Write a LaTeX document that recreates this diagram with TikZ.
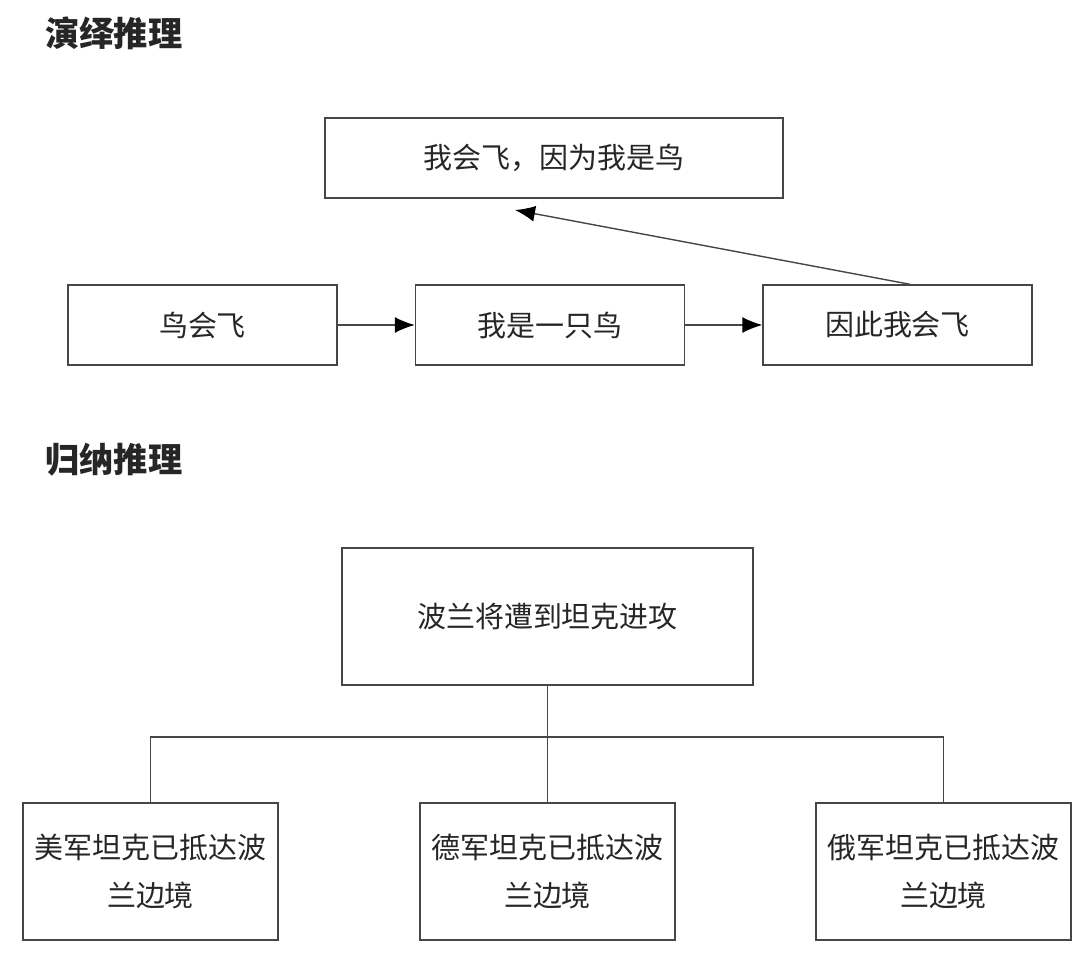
\documentclass[tikz,border=0pt]{standalone}
\usepackage{fontspec}
\setmainfont{Noto Sans CJK SC}
\usetikzlibrary{positioning}
\usetikzlibrary{arrows.meta}
\definecolor{rule}{RGB}{70,70,70}
\tikzstyle{every box} = [draw=rule, line width=0.8pt, text=black!85, font=\fontsize{16.5}{27}\selectfont, align=center]
\tikzstyle{box} = [rectangle, every box]
\tikzstyle{link} = [-{Latex[length=4mm,width=3.2mm,color=black]}, draw=rule, line width=0.8pt]
\tikzstyle{tree} = [draw=rule, line width=0.8pt]
\tikzstyle{heading} = [anchor=west, inner sep=0pt, text=black!85, font=\fontsize{19.5}{22}\selectfont\bfseries]

\begin{document}
\begin{tikzpicture}[x=0.02cm, y=-0.02cm]
                    \useasboundingbox (0,0) rectangle (1080,960);

                    % deduction
                    \node[heading] (deduct) at (45,33) {演绎推理};
                    \node[box, minimum width=9.16cm, minimum height=1.6cm] (claim) at (554,158) {我会飞，因为我是鸟};
                    \tikzstyle{every box} += [minimum width=5.38cm, minimum height=1.6cm]
                    \node[box] (birds) at (202.5,325) {鸟会飞};
                    \node[box] (iam) at (550,325) {我是一只鸟};
                    \node[box] (fly) at (897.5,325) {因此我会飞};
                    \coordinate (tip) at (515,210);
                    \draw[link] (birds.east) -- (iam.west);
                    \draw[link] (iam.east) -- (fly.west);
                    \draw[link] ([xshift=0.25cm]fly.north) -- (tip);

                    % induction
                    \node[heading] (induct) at (45,460) {归纳推理};
                    \tikzstyle{every box} += [minimum width=5.1cm, minimum height=2.74cm]
                    \node[box, minimum width=8.22cm] (invade) at (547.5,616.5) {波兰将遭到坦克进攻};
                    \node[box] (usa) at (150.5,871.5) {美军坦克已抵达波\\兰边境};
                    \node[box] (germany) at (547.5,871.5) {德军坦克已抵达波\\兰边境};
                    \node[box] (russia) at (943.5,871.5) {俄军坦克已抵达波\\兰边境};
                    \coordinate (junction) at (547.5,737);
                    \draw[tree] (invade.south) -- (junction);
                    \draw[tree] (usa.north) |- (junction) -| (russia.north);
                    \draw[tree] (junction) -- (germany.north);
                \end{tikzpicture}
\end{document}
